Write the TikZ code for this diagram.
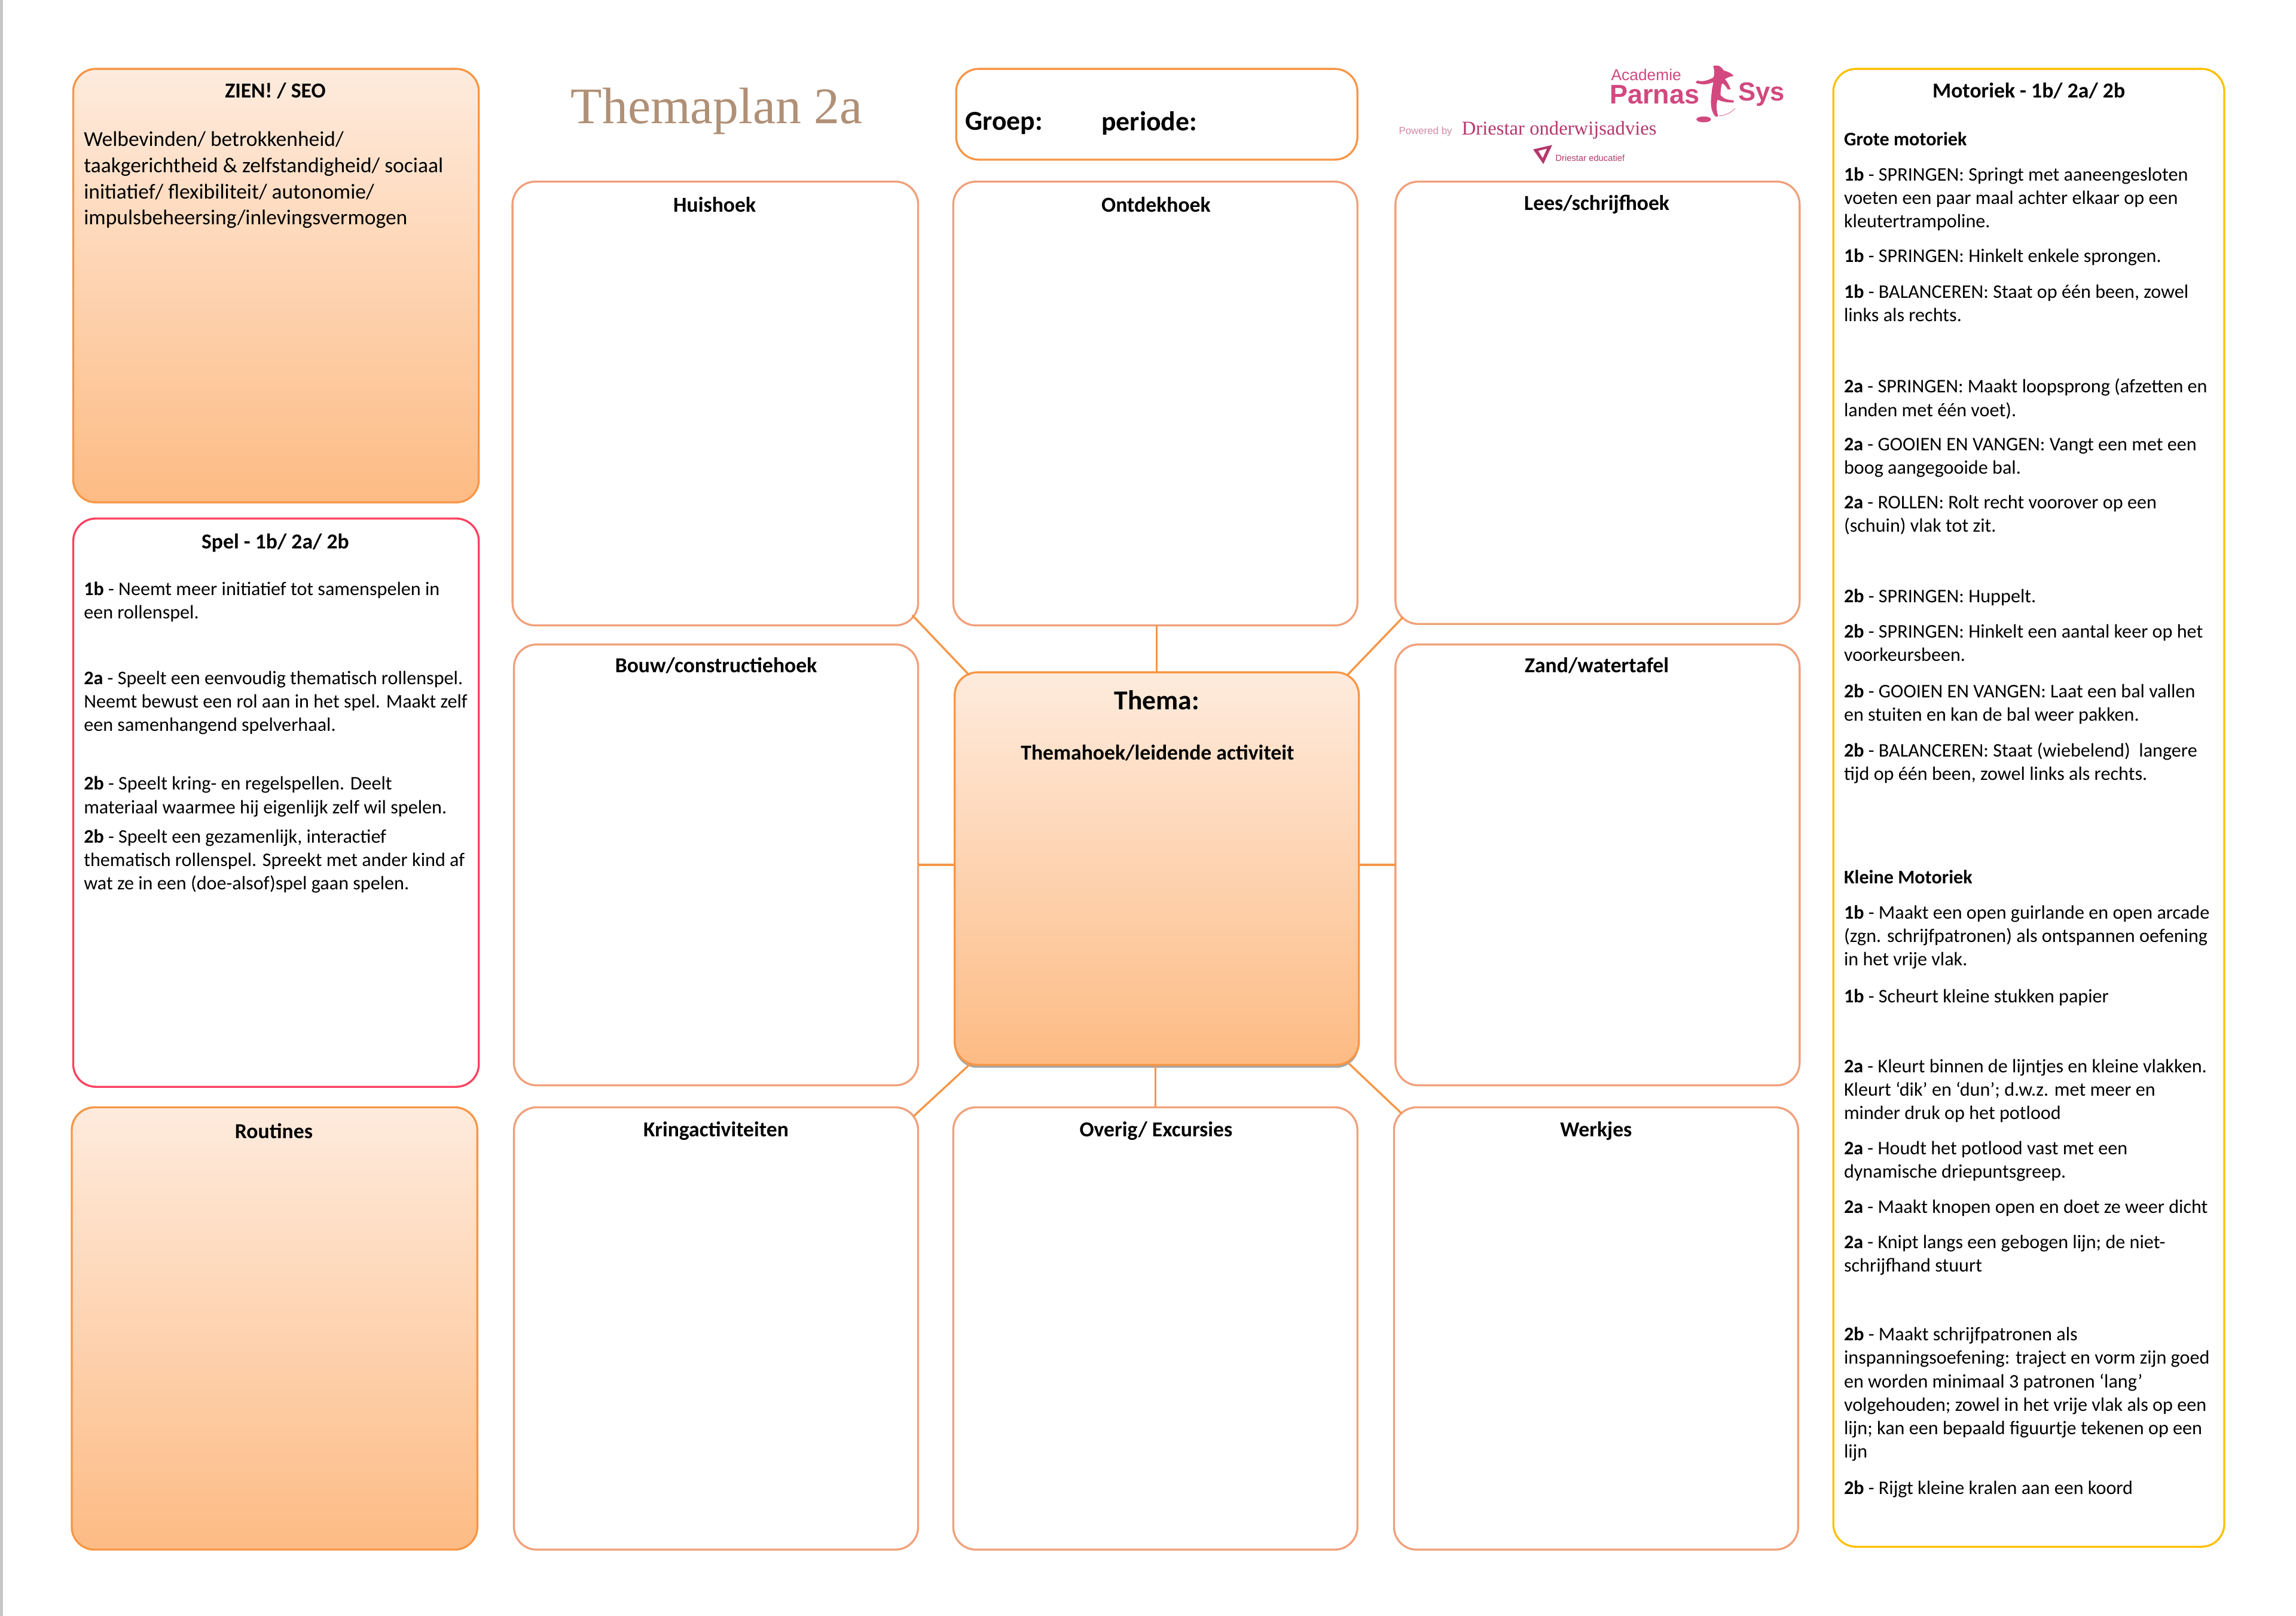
\documentclass[tikz,border=0pt]{standalone}
\usepackage{fontspec}
\setmainfont{Carlito}
\newfontfamily\titlefont{Liberation Serif}
\newfontfamily\logosans{Liberation Sans}
\usetikzlibrary{calc,shadows}
\definecolor{orangeline}{HTML}{F79646}
\definecolor{softline}{HTML}{F0A07A}
\definecolor{redline}{HTML}{FF3F5F}
\definecolor{goldline}{HTML}{FFC000}
\definecolor{gradtop}{HTML}{FEEBDD}
\definecolor{gradbot}{HTML}{FDBB84}
\definecolor{logopink}{HTML}{D2487F}
\definecolor{logodark}{HTML}{B5386C}
\tikzset{
  box/.style={rectangle,rounded corners=0.38cm,anchor=north west,outer sep=0pt,inner sep=0pt,line width=0.95pt},
  size/.style 2 args={minimum width=#1*0.02449cm,minimum height=#2*0.02449cm},
  whitebox/.style={box,draw=softline,fill=white},
  gradbox/.style={box,draw=orangeline,top color=gradtop,bottom color=gradbot},
  head/.style={font=\fontsize{10.15}{12}\selectfont\bfseries,inner sep=0pt},
  para/.style={anchor=north west,align=left,inner sep=0pt,yshift=0.126cm,font=\fontsize{9.15}{11.15}\selectfont},
  zienpara/.style={para,font=\fontsize{10.1}{12.5}\selectfont},
  link/.style={draw=orangeline,line width=0.95pt},
  logotext/.style={inner sep=0pt,text=logopink},
}
\begin{document}
\begin{tikzpicture}[x=0.02449cm,y=-0.02449cm]
\useasboundingbox (0,0) rectangle (1568,1103.3);
\fill[white] (0,0) rectangle (1568,1103.3);
\fill[black!22] (0,0) rectangle (2,1103.3);

% boxes
\node[gradbox,size={277}{296}] (zien) at (50,47) {};
\node[whitebox,draw=redline,size={277}{388}] (spel) at (50,354) {};
\node[gradbox,size={277}{302}] (routines) at (49,756) {};
\node[whitebox,draw=orangeline,size={274}{62}] (groep) at (653,47) {};
\node[whitebox,size={277}{303}] (huis) at (350,124) {};
\node[whitebox,size={276}{303}] (ontdek) at (651,124) {};
\node[whitebox,size={276}{302}] (lees) at (953,124) {};
\node[whitebox,size={276}{301}] (bouw) at (351,440) {};
\node[whitebox,size={276}{301}] (zand) at (953,440) {};
\node[whitebox,size={276}{302}] (kring) at (351,756) {};
\node[whitebox,size={276}{302}] (overig) at (651,756) {};
\node[whitebox,size={276}{302}] (werkjes) at (952,756) {};
\node[whitebox,draw=goldline,size={267}{1009}] (motoriek) at (1252,47) {};
\node[gradbox,size={276}{268},drop shadow={shadow xshift=0pt,shadow yshift=-0.05cm,fill=black,opacity=0.35}] (thema) at (652,459) {};

% connectors
\draw[link] ($(huis.south east)+(-4,-7)$) -- ($(thema.north west)+(10,2)$);
\draw[link] ($(lees.south west)+(5,-4.5)$) -- ($(thema.north east)+(-8,2)$);
\draw[link] ($(kring.north east)+(-3,6)$) -- ($(thema.south west)+(11,-1)$);
\draw[link] ($(werkjes.north west)+(5,4)$) -- ($(thema.south east)+(-8,-2)$);
\draw[link] (ontdek.south) ++(1,0) -- ($(thema.north)$);
\draw[link] (overig.north) -- (overig.north |- thema.south);
\draw[link] (bouw.east) -- (bouw.east -| thema.west);
\draw[link] (zand.west) -- (zand.west -| thema.east);

% headings
\node[head] (t1) at (188,62) {ZIEN! / SEO};
\node[head] (t2) at (188,370.5) {Spel - 1b/ 2a/ 2b};
\node[head] (t3) at (187,772) {Routines};
\node[head] (t4) at (488,139.5) {Huishoek};
\node[head] (t5) at (789.5,139.5) {Ontdekhoek};
\node[head] (t6) at (1090.5,139.5) {Lees/schrijfhoek};
\node[head] (t7) at (489,454.5) {Bouw/constructiehoek};
\node[head] (t8) at (1090.5,454.5) {Zand/watertafel};
\node[head] (t9) at (489,772) {Kringactiviteiten};
\node[head] (t10) at (789.5,772) {Overig/ Excursies};
\node[head] (t11) at (1090,772) {Werkjes};
\node[head] (t12) at (1385.5,62) {Motoriek - 1b/ 2a/ 2b};
\node[head,font=\fontsize{13}{15}\selectfont\bfseries] (t13) at (790,478) {Thema:};
\node[head] (t14) at (790.5,514) {Themahoek/leidende activiteit};
\node[head,font=\fontsize{13}{15}\selectfont\bfseries,anchor=west] (t15) at (659,84) {Groep:};
\node[head,font=\fontsize{13}{15}\selectfont\bfseries,anchor=west] (t16) at (752,84) {periode:};
\node[inner sep=0pt,font=\fontsize{24.4}{27}\titlefont,text={rgb,255:red,176;green,144;blue,118}] (title) at (489.5,76) {Themaplan 2a};

% ZIEN
\node[zienpara] (z1) at (57,94.5) {Welbevinden/ betrokkenheid/\\taakgerichtheid \& zelfstandigheid/ sociaal\\initiatief/ flexibiliteit/ autonomie/\\impulsbeheersing/inlevingsvermogen};

% Spel
\node[para] (s1) at (57,402) {\textbf{1b} - Neemt meer initiatief tot samenspelen in\\een rollenspel.};
\node[para] (s2) at (57,463) {\textbf{2a} - Speelt een eenvoudig thematisch rollenspel.\\Neemt bewust een rol aan in het spel. Maakt zelf\\een samenhangend spelverhaal.};
\node[para] (s3) at (57,535) {\textbf{2b} - Speelt kring- en regelspellen. Deelt\\materiaal waarmee hij eigenlijk zelf wil spelen.};
\node[para] (s4) at (57,571) {\textbf{2b} - Speelt een gezamenlijk, interactief\\thematisch rollenspel. Spreekt met ander kind af\\wat ze in een (doe-alsof)spel gaan spelen.};

% Motoriek
\node[para] (m0) at (1259,95) {\textbf{Grote motoriek}};
\node[para] (m1) at (1259,119) {\textbf{1b} - SPRINGEN: Springt met aaneengesloten\\voeten een paar maal achter elkaar op een\\kleutertrampoline.};
\node[para] (m2) at (1259,174.5) {\textbf{1b} - SPRINGEN: Hinkelt enkele sprongen.};
\node[para] (m3) at (1259,199) {\textbf{1b} - BALANCEREN: Staat op één been, zowel\\links als rechts.};
\node[para] (m4) at (1259,263.5) {\textbf{2a} - SPRINGEN: Maakt loopsprong (afzetten en\\landen met één voet).};
\node[para] (m5) at (1259,304) {\textbf{2a} - GOOIEN EN VANGEN: Vangt een met een\\boog aangegooide bal.};
\node[para] (m6) at (1259,343) {\textbf{2a} - ROLLEN: Rolt recht voorover op een\\(schuin) vlak tot zit.};
\node[para] (m7) at (1259,407) {\textbf{2b} - SPRINGEN: Huppelt.};
\node[para] (m8) at (1259,431) {\textbf{2b} - SPRINGEN: Hinkelt een aantal keer op het\\voorkeursbeen.};
\node[para] (m9) at (1259,472) {\textbf{2b} - GOOIEN EN VANGEN: Laat een bal vallen\\en stuiten en kan de bal weer pakken.};
\node[para] (m10) at (1259,512) {\textbf{2b} - BALANCEREN: Staat (wiebelend)\ \ langere\\tijd op één been, zowel links als rechts.};
\node[para] (m11) at (1259,599) {\textbf{Kleine Motoriek}};
\node[para] (m12) at (1259,623) {\textbf{1b} - Maakt een open guirlande en open arcade\\(zgn. schrijfpatronen) als ontspannen oefening\\in het vrije vlak.};
\node[para] (m13) at (1259,680) {\textbf{1b} - Scheurt kleine stukken papier};
\node[para] (m14) at (1259,728) {\textbf{2a} - Kleurt binnen de lijntjes en kleine vlakken.\\Kleurt ‘dik’ en ‘dun’; d.w.z. met meer en\\minder druk op het potlood};
\node[para] (m15) at (1259,784) {\textbf{2a} - Houdt het potlood vast met een\\dynamische driepuntsgreep.};
\node[para] (m16) at (1259,824) {\textbf{2a} - Maakt knopen open en doet ze weer dicht};
\node[para] (m17) at (1259,848) {\textbf{2a} - Knipt langs een gebogen lijn; de niet-\\schrijfhand stuurt};
\node[para] (m18) at (1259,911) {\textbf{2b} - Maakt schrijfpatronen als\\inspanningsoefening: traject en vorm zijn goed\\en worden minimaal 3 patronen ‘lang’\\volgehouden; zowel in het vrije vlak als op een\\lijn; kan een bepaald figuurtje tekenen op een\\lijn};
\node[para] (m19) at (1259,1016) {\textbf{2b} - Rijgt kleine kralen aan een koord};

% logo
\node[logotext,anchor=west,font=\fontsize{7.5}{8}\logosans] (l1) at (1100,51) {Academie};
\node[logotext,anchor=west,font=\fontsize{12.8}{14}\logosans\bfseries] (l2) at (1099,64.5) {Parnas};
\node[logotext,anchor=west,font=\fontsize{12.4}{14}\logosans\bfseries] (l3) at (1187,64.5) {Sys};
\node[logotext,anchor=west,text=logodark!60,font=\fontsize{4.8}{5}\logosans] (l4) at (955,90) {Powered by};
\node[logotext,anchor=west,text=logodark,font=\fontsize{9.3}{10}\titlefont] (l5) at (998,89) {Driestar onderwijsadvies};
\node[logotext,anchor=west,text=logodark,font=\fontsize{4.2}{5}\logosans] (l6) at (1062,108) {Driestar educatief};
% dancer
\fill[logopink] (1170,45) .. controls (1174,44) and (1176,46) .. (1177,48)
  .. controls (1180,49) and (1183,50) .. (1184,52) .. controls (1181,52) and (1180,53) .. (1178,54)
  .. controls (1180,56) and (1181,59) .. (1182,61) -- (1180,61) .. controls (1178,58) and (1177,57) .. (1176,57)
  .. controls (1175,60) and (1175,63) .. (1175,65) .. controls (1177,67) and (1178,68) .. (1184,68.5)
  -- (1184,70) .. controls (1178,70) and (1175,69) .. (1173,68)
  .. controls (1172,71) and (1172,74) .. (1173,78) .. controls (1174,80) and (1172,80) .. (1171,79)
  .. controls (1168,75) and (1168,69) .. (1169,63) .. controls (1169,60) and (1170,58) .. (1170,56)
  .. controls (1166,58) and (1162,58) .. (1158,56.5) -- (1159,55) .. controls (1163,56) and (1166,55) .. (1170,53)
  .. controls (1171,51) and (1171,49) .. (1170,45) -- cycle;
\fill[logopink] (1163.5,81.5) ellipse (5 and 2);
\draw[logopink!70,line width=0.3pt] (1174,79) .. controls (1178,79) and (1182,77) .. (1185,74);
% triangle mark
\fill[logodark,even odd rule] (1047,102) -- (1060,99) -- (1054,112) -- cycle
  (1050.5,103) -- (1056.5,101.5) -- (1053.5,108) -- cycle;
\end{tikzpicture}
\end{document}
